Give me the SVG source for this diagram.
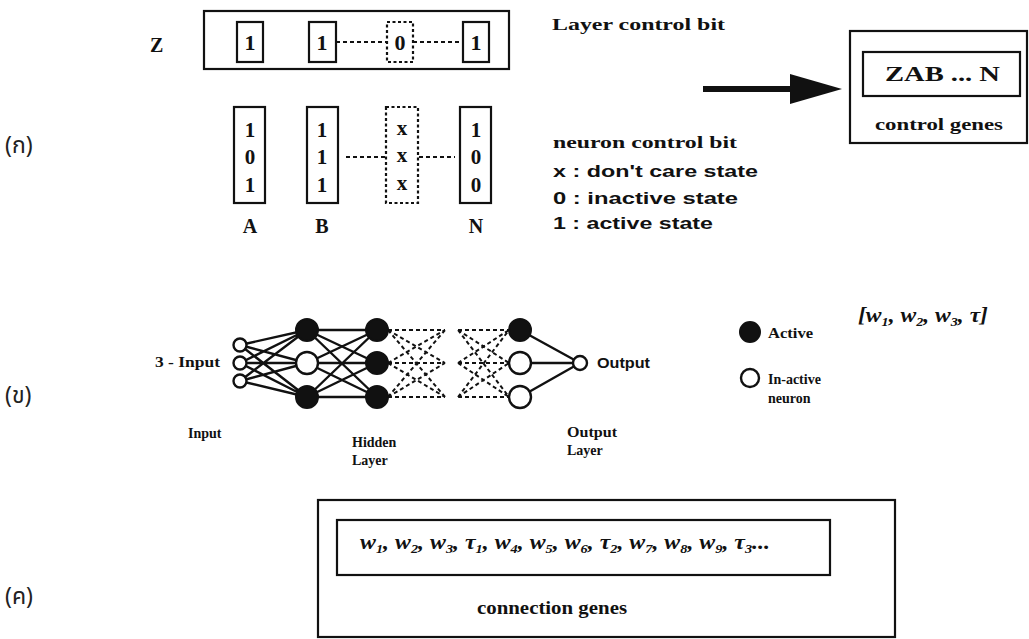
<svg xmlns="http://www.w3.org/2000/svg" width="1029" height="639" viewBox="0 0 1029 639">
<defs>
<style>
.bx{fill:none;stroke:#111;stroke-width:2.2}
.dbx{fill:none;stroke:#111;stroke-width:2.2;stroke-dasharray:3 2.5}
.dl{fill:none;stroke:#111;stroke-width:2;stroke-dasharray:4 3}
.sl{fill:none;stroke:#111;stroke-width:2.4}
.ser{font-family:"Liberation Serif",serif;font-weight:bold;fill:#111}
.san{font-family:"Liberation Sans",sans-serif;font-weight:bold;fill:#111}
.thai{font-family:"Noto Sans Thai","Noto Sans","DejaVu Sans",sans-serif;fill:#222;font-size:23px}
.blk{fill:#111;stroke:#111;stroke-width:2}
.wht{fill:#fff;stroke:#111;stroke-width:2.4}
</style>
</defs>
<rect width="1029" height="639" fill="#fff"/>

<!-- section labels -->
<text class="thai" x="5" y="153">(ก)</text>
<text class="thai" x="5" y="403">(ข)</text>
<text class="thai" x="5" y="604">(ค)</text>

<!-- (ก) layer control bits -->
<g id="layer-bits">
<text class="ser" x="150" y="52" font-size="20">Z</text>
<rect class="bx" x="204" y="11" width="305" height="58"/>
<rect class="bx" x="237" y="22" width="26" height="40"/>
<rect class="bx" x="309" y="22" width="27" height="40"/>
<rect class="dbx" x="387" y="22" width="26" height="40"/>
<rect class="bx" x="463" y="22" width="26" height="40"/>
<g class="ser" font-size="22" text-anchor="middle">
<text x="250" y="50">1</text><text x="322" y="50">1</text><text x="400" y="50">0</text><text x="476" y="50">1</text>
</g>
<line class="dl" x1="336" y1="42" x2="387" y2="42"/>
<line class="dl" x1="413" y1="42" x2="463" y2="42"/>
<text class="ser" x="552" y="30" font-size="17" textLength="173" lengthAdjust="spacingAndGlyphs">Layer control bit</text>
</g>

<!-- neuron control columns -->
<g id="neuron-bits">
<rect class="bx" x="234" y="107" width="31" height="96"/>
<rect class="bx" x="307" y="107" width="31" height="96"/>
<rect class="dbx" x="386" y="107" width="32" height="96"/>
<rect class="bx" x="460" y="107" width="31" height="96"/>
<g class="ser" font-size="21" text-anchor="middle">
<text x="250" y="137">1</text><text x="250" y="164">0</text><text x="250" y="192">1</text>
<text x="322" y="137">1</text><text x="322" y="164">1</text><text x="322" y="192">1</text>
<text x="402" y="135">x</text><text x="402" y="162">x</text><text x="402" y="190">x</text>
<text x="476" y="137">1</text><text x="476" y="164">0</text><text x="476" y="192">0</text>
</g>
<line class="dl" x1="346" y1="157" x2="385" y2="157"/>
<line class="dl" x1="419" y1="157" x2="455" y2="157"/>
<g class="ser" font-size="20" text-anchor="middle">
<text x="250" y="233">A</text><text x="322" y="233">B</text><text x="476" y="233">N</text>
</g>
<text class="ser" x="553" y="148" font-size="17" textLength="184" lengthAdjust="spacingAndGlyphs">neuron control bit</text>
<text class="san" x="553" y="177" font-size="17" textLength="205" lengthAdjust="spacingAndGlyphs">x : don't care state</text>
<text class="san" x="553" y="204" font-size="17" textLength="185" lengthAdjust="spacingAndGlyphs">0 : inactive state</text>
<text class="san" x="553" y="229" font-size="17" textLength="160" lengthAdjust="spacingAndGlyphs">1 : active state</text>
</g>

<!-- arrow -->
<g id="connectors">
<line x1="703" y1="89" x2="795" y2="89" stroke="#111" stroke-width="6"/>
<polygon points="790,74 842,89 790,104" fill="#111"/>
</g>

<!-- control genes -->
<g id="control-genes">
<rect class="bx" x="850" y="31" width="177" height="112"/>
<rect class="bx" x="863" y="52" width="157" height="44"/>
<text class="ser" x="885" y="81" font-size="20" textLength="115" lengthAdjust="spacingAndGlyphs">ZAB ... N</text>
<text class="ser" x="875" y="130" font-size="17" textLength="128" lengthAdjust="spacingAndGlyphs">control genes</text>
</g>

<!-- (ข) network -->
<g id="network">
<text class="ser" x="155" y="367" font-size="14" textLength="65" lengthAdjust="spacingAndGlyphs">3 - Input</text>
<g class="sl">
<path d="M240 345L307 330M240 345L307 363M240 345L307 397M240 363L307 330M240 363L307 363M240 363L307 397M240 381L307 330M240 381L307 363M240 381L307 397"/>
<path d="M307 330L377 330M307 330L377 363M307 330L377 397M307 363L377 330M307 363L377 363M307 363L377 397M307 397L377 330M307 397L377 363M307 397L377 397"/>
<path d="M520 330L580 363M520 363L580 363M520 397L580 363"/>
</g>
<g class="dl">
<path d="M388 330L445 330M388 330L445 363M388 330L445 397M388 363L445 330M388 363L445 363M388 363L445 397M388 397L445 330M388 397L445 363M388 397L445 397"/>
<path d="M458 330L509 330M458 330L509 363M458 330L509 397M458 363L509 330M458 363L509 363M458 363L509 397M458 397L509 330M458 397L509 363M458 397L509 397"/>
</g>
<circle class="wht" cx="240" cy="345" r="6.5"/>
<circle class="wht" cx="240" cy="363" r="6.5"/>
<circle class="wht" cx="240" cy="381" r="6.5"/>
<circle class="blk" cx="307" cy="330" r="11"/>
<circle class="wht" cx="307" cy="363" r="11"/>
<circle class="blk" cx="307" cy="397" r="11"/>
<circle class="blk" cx="377" cy="330" r="11"/>
<circle class="blk" cx="377" cy="363" r="11"/>
<circle class="blk" cx="377" cy="397" r="11"/>
<circle class="blk" cx="520" cy="330" r="11"/>
<circle class="wht" cx="520" cy="363" r="11"/>
<circle class="wht" cx="520" cy="397" r="11"/>
<circle class="wht" cx="580" cy="363" r="7"/>
<text class="san" x="597" y="368" font-size="14" textLength="53" lengthAdjust="spacingAndGlyphs">Output</text>
<text class="ser" x="188" y="438" font-size="14">Input</text>
<text class="ser" x="352" y="447" font-size="14">Hidden</text>
<text class="ser" x="352" y="465" font-size="14">Layer</text>
<text class="ser" x="567" y="437" font-size="14" textLength="50" lengthAdjust="spacingAndGlyphs">Output</text>
<text class="ser" x="567" y="455" font-size="14">Layer</text>
</g>

<!-- legend -->
<g id="legend">
<circle class="blk" cx="750" cy="332" r="10"/>
<text class="ser" x="768" y="338" font-size="14" textLength="45" lengthAdjust="spacingAndGlyphs">Active</text>
<circle class="wht" cx="750" cy="378" r="9"/>
<text class="ser" x="768" y="384" font-size="14">In-active</text>
<text class="ser" x="768" y="403" font-size="14">neuron</text>
<text class="ser" x="858" y="322" font-size="20" font-style="italic" textLength="130" lengthAdjust="spacingAndGlyphs">[w<tspan font-size="12" dy="4">1</tspan><tspan dy="-4">, w</tspan><tspan font-size="12" dy="4">2</tspan><tspan dy="-4">, w</tspan><tspan font-size="12" dy="4">3</tspan><tspan dy="-4">, τ]</tspan></text>
</g>

<!-- (ค) connection genes -->
<g id="connection-genes">
<rect class="bx" x="318" y="500" width="577" height="137"/>
<rect class="bx" x="337" y="520" width="493" height="55"/>
<text class="ser" x="360" y="549" font-size="20" font-style="italic" textLength="410" lengthAdjust="spacingAndGlyphs">w<tspan font-size="12" dy="4">1</tspan><tspan dy="-4">, w</tspan><tspan font-size="12" dy="4">2</tspan><tspan dy="-4">, w</tspan><tspan font-size="12" dy="4">3</tspan><tspan dy="-4">, τ</tspan><tspan font-size="12" dy="4">1</tspan><tspan dy="-4">, w</tspan><tspan font-size="12" dy="4">4</tspan><tspan dy="-4">, w</tspan><tspan font-size="12" dy="4">5</tspan><tspan dy="-4">, w</tspan><tspan font-size="12" dy="4">6</tspan><tspan dy="-4">, τ</tspan><tspan font-size="12" dy="4">2</tspan><tspan dy="-4">, w</tspan><tspan font-size="12" dy="4">7</tspan><tspan dy="-4">, w</tspan><tspan font-size="12" dy="4">8</tspan><tspan dy="-4">, w</tspan><tspan font-size="12" dy="4">9</tspan><tspan dy="-4">, τ</tspan><tspan font-size="12" dy="4">3</tspan><tspan dy="-4">...</tspan></text>
<text class="ser" x="477" y="614" font-size="19" textLength="150" lengthAdjust="spacingAndGlyphs">connection genes</text>
</g>
</svg>
